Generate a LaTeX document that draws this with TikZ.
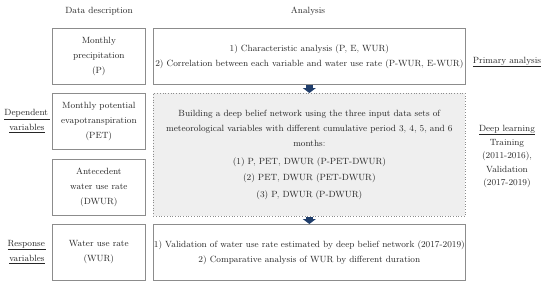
\documentclass[tikz,border=0pt]{standalone}
\usetikzlibrary{arrows.meta}
\definecolor{boxgray}{HTML}{8C8C8C}
\definecolor{fillgray}{HTML}{EFEFEF}
\definecolor{arrowblue}{HTML}{1F3D6B}
\definecolor{txtcol}{HTML}{262626}
\begin{document}
\begin{tikzpicture}[x=1pt,y=-1pt,
  every node/.style={text=txtcol},
  txt/.style={font=\fontsize{9}{15}\selectfont, align=center, inner sep=0pt},
  databox/.style={txt, draw=boxgray, line width=0.7pt, minimum width=93pt, minimum height=56pt, anchor=north west},
  anabox/.style={txt, draw=boxgray, line width=0.7pt, minimum width=312pt, minimum height=56pt, anchor=north west},
  dlbox/.style={txt, draw=boxgray, dotted, line width=0.7pt, fill=fillgray, minimum width=312pt, minimum height=123pt, anchor=north west},
  blockarrow/.style={draw=arrowblue, line width=7pt, -{Triangle[width=13pt,length=5pt]}, shorten >=0pt}
]
\useasboundingbox (0,0) rectangle (550,287);

% headers
\node[txt] (hdata) at (99,11) {Data description};
\node[txt] (hana) at (308,11) {Analysis};

% left data boxes
\node[databox] (p) at (52,28) {Monthly\\ precipitation\\ (P)};
\node[databox] (pet) at (52,93) {Monthly potential\\ evapotranspiration\\ (PET)};
\node[databox] (dwur) at (52,159) {Antecedent\\ water use rate\\ (DWUR)};
\node[databox] (wur) at (52,224) {Water use rate\\ (WUR)};

% analysis boxes
\node[anabox] (prim) at (153,28) {1) Characteristic analysis (P, E, WUR)\\ 2) Correlation between each variable and water use rate (P-WUR, E-WUR)};
\node[dlbox] (dl) at (153,93) {Building a deep belief network using the three input data sets of\\ meteorological variables with different cumulative period 3, 4, 5, and 6\\ months:\\[3pt] (1) P, PET, DWUR (P-PET-DWUR)\\[1.5pt] (2) PET, DWUR (PET-DWUR)\\[1.5pt] (3) P, DWUR (P-DWUR)};
\node[anabox] (val) at (153,224) {1) Validation of water use rate estimated by deep belief network (2017-2019)\\ 2) Comparative analysis of WUR by different duration};

% arrows
\draw[blockarrow] (prim.south) -- (dl.north);
\draw[blockarrow] (dl.south) -- (val.north);

% side labels
\node[txt] (dep) at (27,121) {\underline{Dependent\,}\\ \underline{variables}};
\node[txt] (resp) at (27,252) {\underline{Response\,}\\ \underline{variables}};
\node[txt] (pa) at (507,62) {\underline{Primary analysis}};
\node[txt] (dlt) at (507,130) {\underline{Deep learning}};
\node[txt, font=\fontsize{9}{13.5}\selectfont, anchor=north] (train) at (507,139) {Training\\ (2011-2016),\\ Validation\\ (2017-2019)};
\end{tikzpicture}
\end{document}
